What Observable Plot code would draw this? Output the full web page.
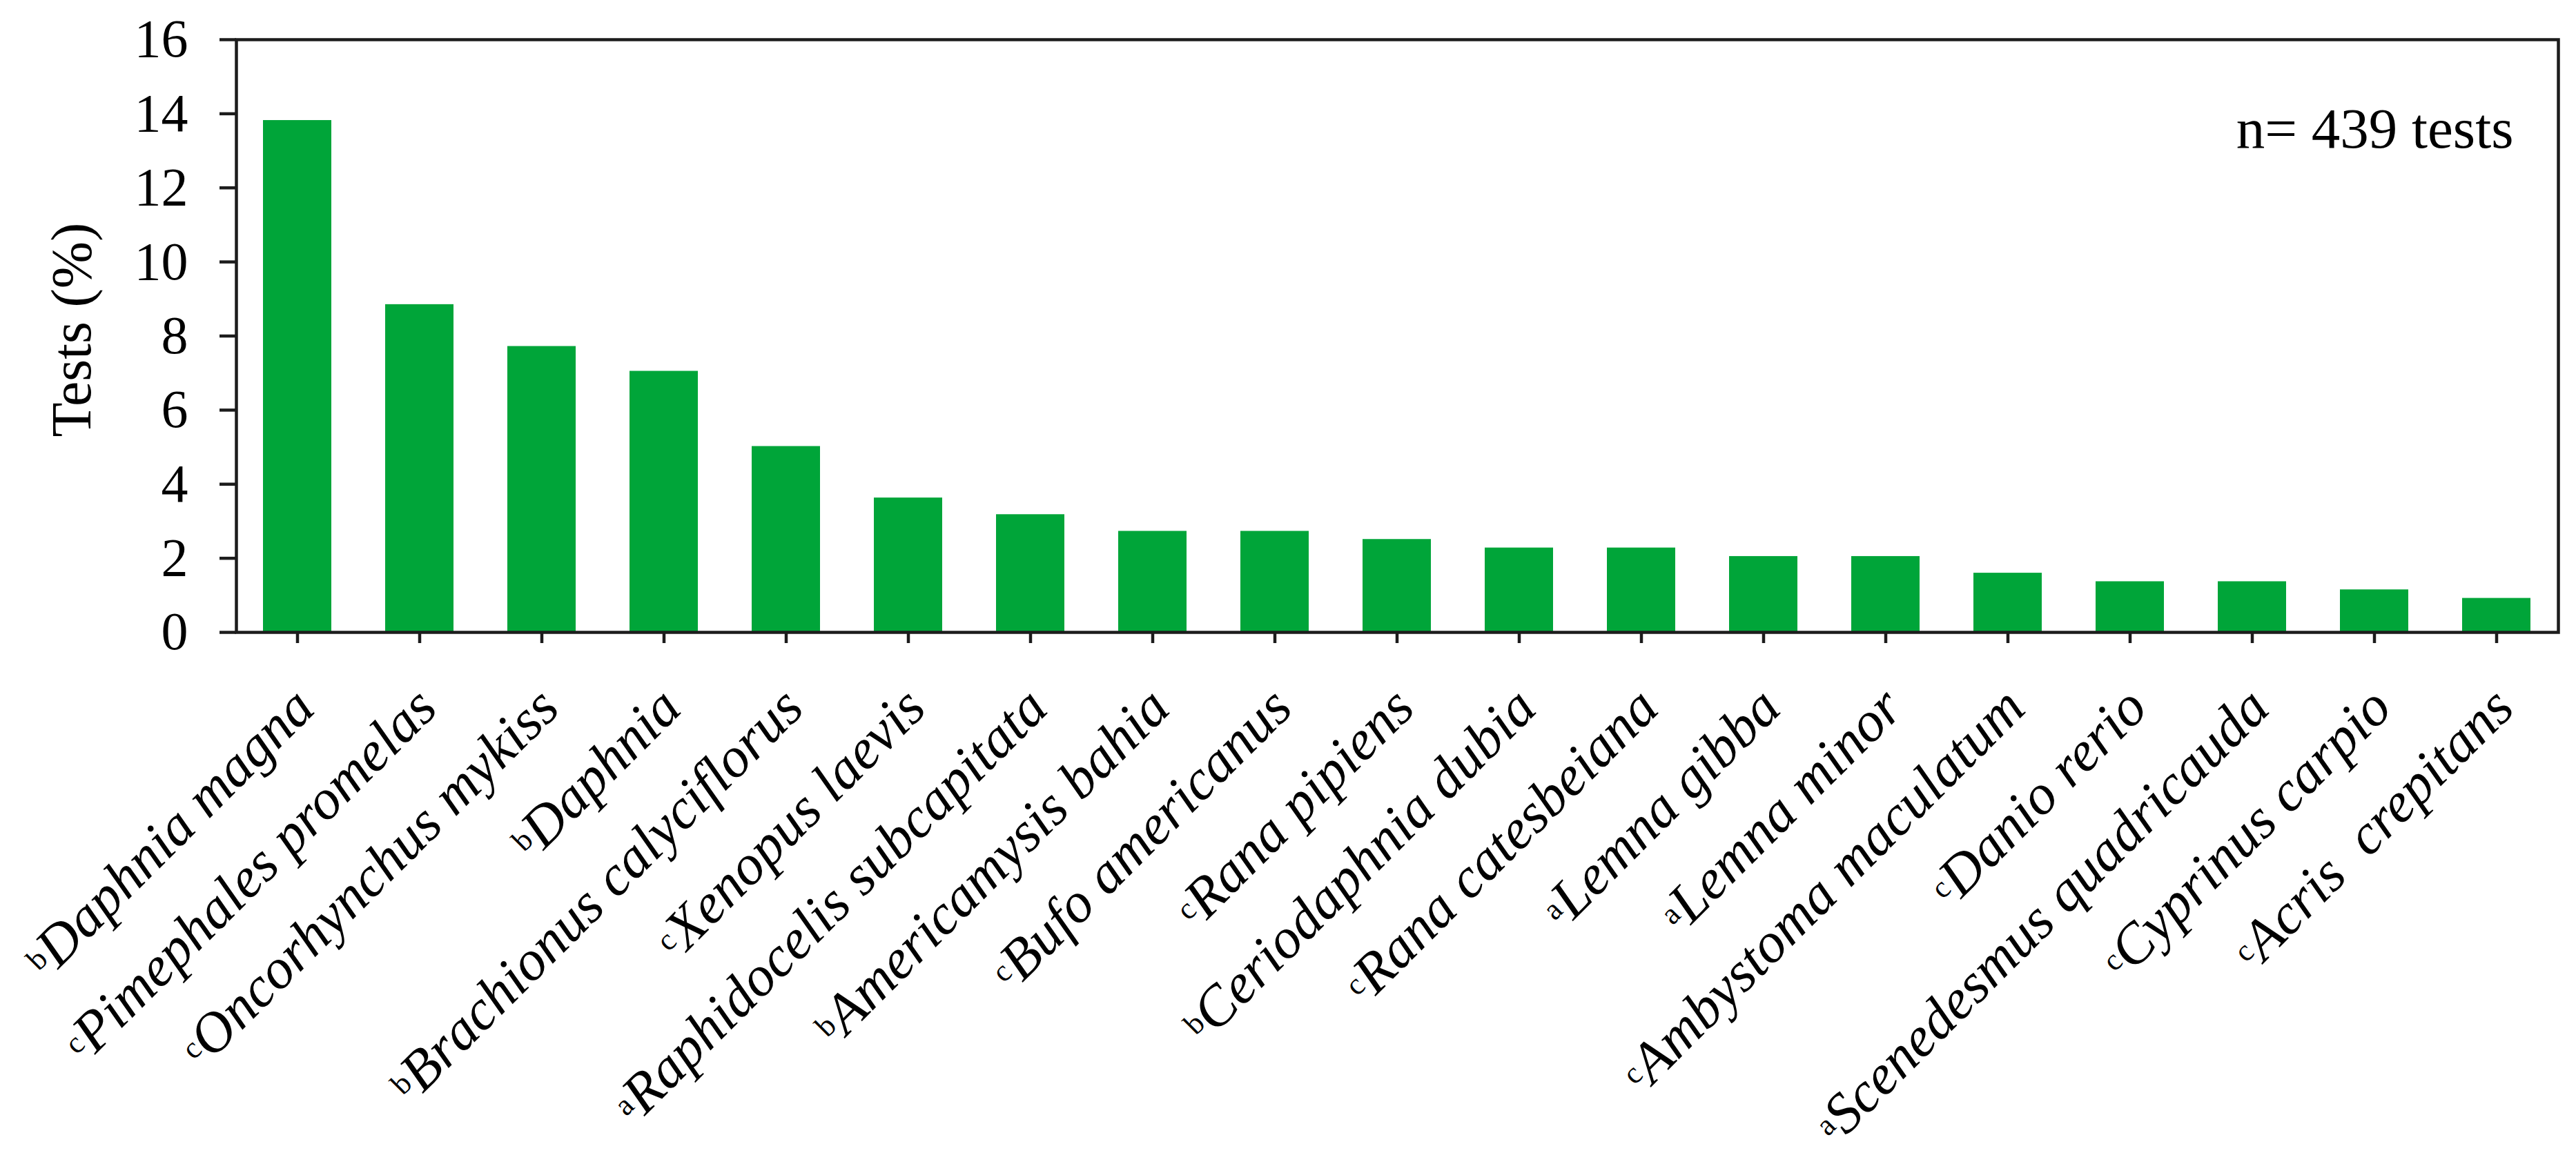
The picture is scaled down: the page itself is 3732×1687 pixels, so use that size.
<!DOCTYPE html>
<html>
<head>
<meta charset="utf-8">
<script src="https://cdn.jsdelivr.net/npm/d3@7"></script>
<script src="https://cdn.jsdelivr.net/npm/@observablehq/plot@0.6"></script>
<style>
  html, body { margin: 0; padding: 0; background: #ffffff; }
  #chart svg { display: block; }
</style>
</head>
<body>
<div id="chart"></div>
<script>
// ---- data ----
const species = [
  "Daphnia magna", "Pimephales promelas", "Oncorhynchus mykiss", "Daphnia",
  "Brachionus calyciflorus", "Xenopus laevis", "Raphidocelis subcapitata",
  "Americamysis bahia", "Bufo americanus", "Rana pipiens", "Ceriodaphnia dubia",
  "Rana catesbeiana", "Lemna gibba", "Lemna minor", "Ambystoma maculatum",
  "Danio rerio", "Scenedesmus quadricauda", "Cyprinus carpio", "Acris  crepitans"
];
const groups = ["b","c","c","b","b","c","a","b","c","c","b","c","a","a","c","c","a","c","c"];
const tests = [13.82, 8.85, 7.72, 7.05, 5.02, 3.63, 3.18, 2.73, 2.73, 2.51, 2.28, 2.28, 2.05, 2.05, 1.6, 1.37, 1.37, 1.15, 0.92];
const yTicks = [0, 2, 4, 6, 8, 10, 12, 14, 16];
const yLabel = "Tests (%)";
const note = "n= 439 tests";

const table = species.map((s, i) => ({species: s, group: groups[i], tests: tests[i]}));

const W = 3732, H = 1687;
const font = "Liberation Serif";

const chart = Plot.plot({
  width: W,
  height: H,
  marginLeft: 342,
  marginRight: 26,
  marginTop: 57,
  marginBottom: 771,
  style: {fontFamily: font, fontSize: "82px", color: "#000", background: "#fff"},
  x: {type: "band", domain: species, paddingInner: 0.44, paddingOuter: 0.22, axis: null},
  y: {domain: [0, 16], axis: null},
  marks: [
    Plot.barY(table, {x: "species", y: "tests", fill: "#00a539"}),
    Plot.frame({stroke: "#1c1c1c", strokeWidth: 4.5}),
    Plot.axisY({ticks: yTicks, tickSize: 24, tickPadding: 46, fontSize: 78, strokeWidth: 4.5, stroke: "#1c1c1c", label: null, tickFormat: d => String(d)}),
    Plot.axisX({tickSize: 16, strokeWidth: 4.5, stroke: "#1c1c1c", fill: "none", label: null}),
    Plot.text(table, {
      x: "species", frameAnchor: "bottom",
      text: d => d.group + "|" + d.species,
      rotate: -45, textAnchor: "end", lineAnchor: "middle",
      dx: 10, dy: 95, fontSize: 82, fontStyle: "italic", fill: "#000"
    }),
    Plot.text([yLabel], {
      frameAnchor: "left", text: d => d, rotate: -90,
      textAnchor: "middle", lineAnchor: "middle",
      dx: -238, dy: -9, fontSize: 82, fill: "#000"
    }),
    Plot.text([note], {
      frameAnchor: "top-right", text: d => d,
      textAnchor: "end", lineAnchor: "middle",
      dx: -65, dy: 130, fontSize: 83, fill: "#000"
    })
  ]
});

// Turn "g|Name" into a small upright superscript letter + italic name
const SUP_SIZE = 44, RAISE = 18;
const ns = "http://www.w3.org/2000/svg";
Array.from(chart.querySelectorAll("text")).forEach(t => {
  const content = t.textContent;
  if (!content.includes("|")) return;
  const [g, name] = content.split("|");
  while (t.firstChild) t.removeChild(t.firstChild);
  t.setAttribute("xml:space", "preserve");
  t.style.whiteSpace = "pre";
  const s = document.createElementNS(ns, "tspan");
  s.setAttribute("font-size", SUP_SIZE + "px");
  s.setAttribute("font-style", "normal");
  s.setAttribute("baseline-shift", RAISE + "px");
  s.textContent = g;
  const n = document.createElementNS(ns, "tspan");
  n.textContent = name;
  t.appendChild(s);
  t.appendChild(n);
});

document.getElementById("chart").appendChild(chart);
</script>
</body>
</html>
